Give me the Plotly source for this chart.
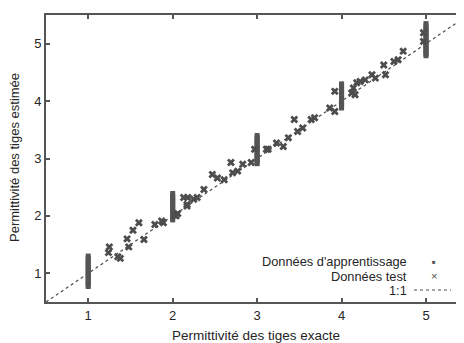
import plotly.graph_objects as go

# Training data (vertical clusters at exact values)
train_x = [1]*18 + [2]*16 + [3]*17 + [4]*15 + [5]*19
train_y = [0.77, 0.80, 0.83, 0.86, 0.89, 0.92, 0.95, 0.98, 1.01, 1.04, 1.07, 1.10, 1.13, 1.16, 1.19, 1.22, 1.26, 1.30,
           1.93, 1.96, 1.99, 2.02, 2.05, 2.08, 2.11, 2.14, 2.17, 2.20, 2.23, 2.26, 2.29, 2.32, 2.35, 2.39,
           2.91, 2.94, 2.97, 3.00, 3.03, 3.06, 3.09, 3.12, 3.15, 3.18, 3.21, 3.24, 3.27, 3.30, 3.33, 3.36, 3.40,
           3.88, 3.91, 3.94, 3.97, 4.00, 4.03, 4.06, 4.09, 4.12, 4.15, 4.18, 4.21, 4.24, 4.27, 4.30,
           4.79, 4.82, 4.85, 4.88, 4.91, 4.94, 4.97, 5.00, 5.03, 5.06, 5.09, 5.12, 5.15, 5.18, 5.21, 5.24, 5.27, 5.31, 5.35]

# Test data
test_x = [1.25, 1.24, 1.35, 1.38, 1.46, 1.48, 1.53, 1.60, 1.66, 1.79, 1.87, 1.89, 2.03, 2.06, 2.13, 2.18, 2.17,
          2.04, 2.17, 2.25, 2.29, 2.37, 2.47, 2.53, 2.61, 2.69, 2.71, 2.77, 2.83, 2.93, 2.97, 3.13,
          3.11, 3.23, 3.31, 3.37, 3.44, 3.48, 3.54, 3.64, 3.68, 3.86, 3.92, 3.92, 4.12, 4.18, 4.14,
          4.22, 4.28, 4.36, 4.40, 4.50, 4.52, 4.62, 4.67, 4.73, 4.97, 4.97, 4.16]
test_y = [1.46, 1.36, 1.29, 1.26, 1.60, 1.46, 1.75, 1.88, 1.59, 1.85, 1.91, 1.88, 2.01, 2.04, 2.32, 2.32, 2.17,
          2.00, 2.20, 2.29, 2.32, 2.46, 2.72, 2.66, 2.63, 2.93, 2.75, 2.78, 2.90, 2.93, 3.16, 3.16,
          3.16, 3.27, 3.21, 3.36, 3.68, 3.47, 3.53, 3.68, 3.71, 3.88, 4.17, 3.82, 4.14, 4.32, 4.23,
          4.34, 4.37, 4.46, 4.40, 4.63, 4.46, 4.69, 4.72, 4.87, 5.19, 5.04, 4.11]

# 1:1 line
line_x = [0.5, 5.5]
line_y = [0.5, 5.5]

tick_vals = [1, 2, 3, 4, 5]
x_title = "Permittivité des tiges exacte"
y_title = "Permittivité des tiges estimée"
legend_labels = ["Données d'apprentissage", "Données test", "1:1"]

dark = "#4a4a4a"
txt = "#262626"
font_family = "Liberation Sans, Arial, sans-serif"

# page body has an 8px margin; figure sized to fit the window exactly
OFF = 8
L, R, T, B = 38, 0, 7, 41
W, H = 456, 335
PW, PH = W - L - R, H - T - B

def px(s):
    return (s - OFF - L) / PW
def py(s):
    return 1 - (s - OFF - T) / PH

fig = go.Figure()
fig.add_trace(go.Scatter(x=line_x, y=line_y, mode="lines",
                         line=dict(color=dark, width=1.2, dash="dot"), showlegend=False, cliponaxis=True))
fig.add_trace(go.Scatter(x=train_x, y=train_y, mode="markers",
                         marker=dict(symbol="square", size=5, color="#555555"), showlegend=False))
fig.add_trace(go.Scatter(x=test_x, y=test_y, mode="markers",
                         marker=dict(symbol="x", size=7, color="#4d4d4d"), showlegend=False))

axis_common = dict(showline=True, linecolor="#555555", linewidth=2,
                   ticks="inside", ticklen=4, tickwidth=1.5, tickcolor="#555555",
                   showgrid=False, zeroline=False, tickvals=tick_vals, automargin=False,
                   tickfont=dict(family=font_family, size=13, color=txt))
fig.update_xaxes(range=[0.5, 5.45], mirror="ticks", **axis_common)
fig.update_yaxes(range=[0.5, 5.5], mirror=False, **axis_common)

# Axis titles
fig.add_annotation(x=px(256), y=py(335), xref="paper", yref="paper", text=x_title, showarrow=False,
                   xanchor="center", yanchor="middle", font=dict(family=font_family, size=13.5, color=txt))
fig.add_annotation(x=px(14), y=py(158), xref="paper", yref="paper", text=y_title, showarrow=False,
                   textangle=-90, xanchor="center", yanchor="middle",
                   font=dict(family=font_family, size=13, color=txt))

# Legend (text right aligned, sample to its right)
rows_y = [261.5, 276, 290]
for lab, yy in zip(legend_labels, rows_y):
    fig.add_annotation(x=px(408), y=py(yy), xref="paper", yref="paper", text=lab, showarrow=False,
                       xanchor="right", yanchor="middle", borderpad=0,
                       font=dict(family=font_family, size=12.8, color=txt))
fig.add_annotation(x=px(434), y=py(rows_y[0]), xref="paper", yref="paper", text="■", showarrow=False,
                   xanchor="center", yanchor="middle", font=dict(size=6, color="#555555"))
fig.add_annotation(x=px(434), y=py(rows_y[1]), xref="paper", yref="paper", text="×", showarrow=False,
                   xanchor="center", yanchor="middle", font=dict(size=11, color="#4d4d4d"))
fig.add_shape(type="line", xref="paper", yref="paper", x0=px(414), x1=px(451), y0=py(rows_y[2]), y1=py(rows_y[2]),
              line=dict(color=dark, width=1.2, dash="dot"))

fig.update_layout(width=W, height=H, margin=dict(l=L, r=R, t=T, b=B, autoexpand=False),
                  plot_bgcolor="white", paper_bgcolor="white",
                  font=dict(family=font_family))
fig.write_html("out.html")
